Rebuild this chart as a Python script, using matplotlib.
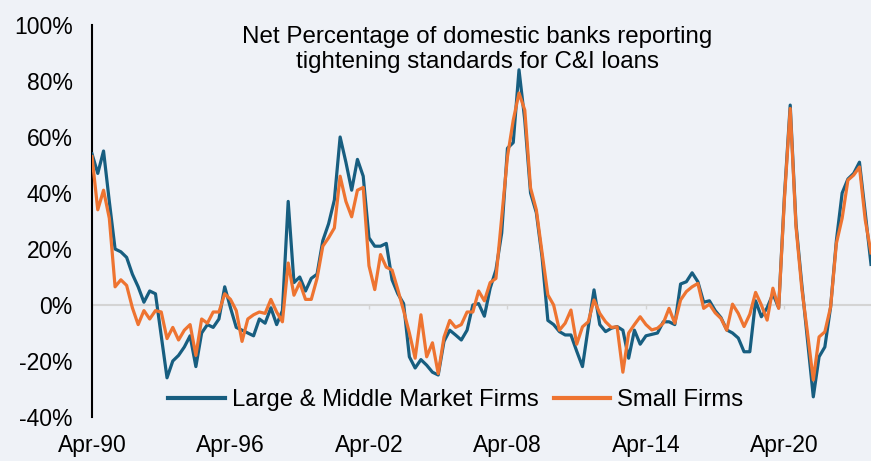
import numpy as np
import pandas as pd
import matplotlib
matplotlib.use("Agg")
import matplotlib.pyplot as plt

plt.rcParams['font.family'] = ['Liberation Sans', 'DejaVu Sans']

# Quarterly survey dates, starting Apr-90
start_quarter = "1990Q2"

large_middle = [
    54, 47, 55, 37, 20, 19, 17, 11, 6.5, 1,
    5, 4, -11, -26, -20, -18, -15, -11, -22, -10,
    -7, -8, -5, 6.5, -1, -8, -9, -10, -11, -5,
    -6.5, -1, -7, -2, 37, 8, 10, 5, 9.5, 11,
    23, 29, 37.5, 60, 51, 41, 52, 46, 24, 21,
    21, 22, 9, 4, 0.5, -18.5, -22.5, -19.5, -21.5, -24,
    -25, -13, -9, -10.7, -12.5, -9, 0, 0.5, -4, 6,
    12.5, 25.7, 56, 58, 84, 66, 40, 33, 17, -5.5,
    -7, -9.5, -10.7, -10.7, -16.5, -22, -8, 5.4, -7, -9.5,
    -8.3, -7.7, -9, -19, -9, -14, -11, -10.5, -10, -6,
    -6, -7, 7.5, 8.3, 11.5, 8.3, 1, 1.5, -2, -4.5,
    -8.9, -10, -11.8, -16.7, -16.7, 1.5, -4.2, -1, 4, -1,
    39, 71.4, 29, 7.5, -12.6, -32.8, -18.5, -15, -0.7, 23,
    40, 45, 47, 51, 33, 14.5,
]

small_firms = [
    53, 34, 41, 31, 6.5, 9, 7, -1, -7, -2,
    -5, -2, -2.5, -12, -8, -12.5, -9, -7, -18, -5,
    -6.5, -2.5, -2.5, 4, 2, -2, -13, -5, -3.5, -2.5,
    -3, 2, -2.5, -6, 15, 3.5, 8, 2, 2, 9.5,
    21, 24, 27.5, 46, 37, 31.5, 41, 42, 14, 5.5,
    18, 13.5, 12.5, 5.5, -2, -10, -19, -3.5, -18.5, -13.5,
    -24.5, -11.5, -5.5, -8, -7, -2.5, -2.5, 5, 1.5, 8,
    9.5, 31.4, 53, 66, 75.7, 69.6, 41.8, 34, 18.6, 3.6,
    0, -9, -6.5, -1.8, -14, -7.8, -6, 1.8, -3, -6,
    -8, -7.8, -24, -10, -7, -4.2, -7, -8.9, -8.3, -6.5,
    -1.2, -6.5, 1.8, 4.8, 6.5, 7.7, -1.2, 0.3, -2.8, -4.8,
    -9, 0.3, -3, -7.7, -3.3, 4.5, 0, -5.4, 6, -1.2,
    38, 70.2, 28, 6, -10, -26.8, -11.4, -9.6, -0.7, 22,
    31, 44.6, 46.4, 49.3, 30.4, 18.6,
]

tick_labels = ["Apr-90", "Apr-96", "Apr-02", "Apr-08", "Apr-14", "Apr-20"]
y_ticks = [-40, -20, 0, 20, 40, 60, 80, 100]

series_names = ["Large & Middle Market Firms", "Small Firms"]
title_lines = ["Net Percentage of domestic banks reporting",
               "tightening standards for C&I loans"]

n = len(large_middle)
dates = pd.period_range(start_quarter, periods=n, freq="Q").to_timestamp(how="start")
date_labels = [d.strftime("%b-%y") for d in dates]
x = np.arange(n)
tick_pos = [date_labels.index(t) for t in tick_labels]

bg = "#eff2f7"
blue = "#175e80"
orange = "#ee7431"

W, H = 871, 461
fig = plt.figure(figsize=(W / 100, H / 100), dpi=100, facecolor=bg)
ax = fig.add_axes([92 / W, 1 - 417 / H, (871 - 92) / W, (417 - 25) / H])
ax.set_facecolor(bg)

ax.plot(x, large_middle, color=blue, lw=2.3, label=series_names[0], zorder=3)
ax.plot(x, small_firms, color=orange, lw=2.3, label=series_names[1], zorder=4)

ax.set_xlim(0, n - 1)
ax.set_ylim(-40, 100)
ax.set_yticks(y_ticks)
ax.set_yticklabels([f"{v}%" for v in y_ticks])
ax.tick_params(axis="y", length=0, pad=14, labelsize=16.5)

ax.set_xticks(tick_pos)
ax.set_xticklabels(tick_labels)
ax.tick_params(axis="x", length=3, width=1, color="#d4d4d4", direction="out",
               pad=90, labelsize=16.5)

for s in ["top", "right"]:
    ax.spines[s].set_visible(False)
ax.spines["left"].set_color("black")
ax.spines["left"].set_linewidth(1.5)
ax.spines["bottom"].set_position(("data", 0))
ax.spines["bottom"].set_color("#d4d4d4")
ax.spines["bottom"].set_linewidth(1.5)
ax.spines["bottom"].set_zorder(1)

fig.text(477 / W, 1 - 37 / H, title_lines[0], ha="center", va="center", fontsize=17.4)
fig.text(477 / W, 1 - 62 / H, title_lines[1], ha="center", va="center", fontsize=17.4)

leg = fig.legend(loc="center", bbox_to_anchor=(456 / W, 1 - 400 / H), ncol=2,
                 frameon=False, fontsize=17.2, handlelength=2.35, handletextpad=0.3,
                 columnspacing=0.65)
for line in leg.get_lines():
    line.set_linewidth(3)

fig.savefig("out.png", dpi=100, facecolor=bg)
